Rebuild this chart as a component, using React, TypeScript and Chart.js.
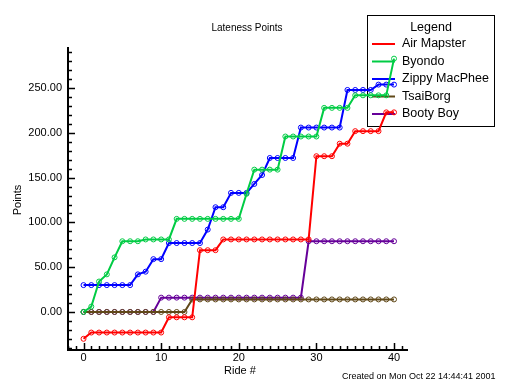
import React, { useEffect, useRef } from 'react';
import { Chart, registerables } from 'chart.js';

Chart.register(...registerables);

const rides = [0, 1, 2, 3, 4, 5, 6, 7, 8, 9, 10, 11, 12, 13, 14, 15, 16, 17, 18, 19, 20, 21, 22, 23, 24, 25, 26, 27, 28, 29, 30, 31, 32, 33, 34, 35, 36, 37, 38, 39, 40];

const airMapster = [-30, -23, -23, -23, -23, -23, -23, -23, -23, -23, -23, -6, -6, -6, -6, 69, 69, 69, 81, 81, 81, 81, 81, 81, 81, 81, 81, 81, 81, 81, 174, 174, 174, 188, 188, 202, 202, 202, 202, 223, 223];
const byondo = [0, 6, 34, 42, 61, 79, 79, 79, 81, 81, 81, 81, 104, 104, 104, 104, 104, 104, 104, 104, 104, 132, 159, 159, 159, 159, 196, 196, 196, 196, 196, 228, 228, 228, 228, 242, 242, 242, 242, 242, 283];
const zippyMacPhee = [30, 30, 30, 30, 30, 30, 30, 42, 45, 59, 59, 77, 77, 77, 77, 77, 92, 117, 117, 133, 133, 133, 143, 153, 172, 172, 172, 172, 206, 206, 206, 206, 206, 206, 248, 248, 248, 248, 254, 254, 254];
const tsaiBorg = [0, 0, 0, 0, 0, 0, 0, 0, 0, 0, 0, 0, 0, 0, 14, 14, 14, 14, 14, 14, 14, 14, 14, 14, 14, 14, 14, 14, 14, 14, 14, 14, 14, 14, 14, 14, 14, 14, 14, 14, 14];
const bootyBoy = [0, 0, 0, 0, 0, 0, 0, 0, 0, 0, 16, 16, 16, 16, 16, 16, 16, 16, 16, 16, 16, 16, 16, 16, 16, 16, 16, 16, 16, 79, 79, 79, 79, 79, 79, 79, 79, 79, 79, 79, 79];

const seriesNames = ['Air Mapster', 'Byondo', 'Zippy MacPhee', 'TsaiBorg', 'Booty Boy'];
const seriesColors = ['#ff0000', '#00cc44', '#0000ff', '#604818', '#660099'];
const seriesValues = [airMapster, byondo, zippyMacPhee, tsaiBorg, bootyBoy];

const yTickValues = [0, 50, 100, 150, 200, 250];
const yTickLabels = ['0.00', '50.00', '100.00', '150.00', '200.00', '250.00'];
const xTickValues = [0, 10, 20, 30, 40];
const xTickLabels = ['0', '10', '20', '30', '40'];

const titleText = 'Lateness Points';
const xTitle = 'Ride #';
const yTitle = 'Points';
const legendTitle = 'Legend';
const footerText = 'Created on Mon Oct 22 14:44:41 2001';

const FONT = "'Liberation Sans', Arial, Helvetica, sans-serif";

const decoPlugin = {
  id: 'deco',
  beforeDatasetsDraw(chart: any) {
    const ctx = chart.ctx as CanvasRenderingContext2D;
    const xs = chart.scales.x;
    const ys = chart.scales.y;
    const left = xs.left;
    const right = xs.right;
    const top = ys.top;
    const bottom = ys.bottom;
    ctx.save();
    ctx.strokeStyle = '#000';
    ctx.fillStyle = '#000';

    // axis lines
    ctx.lineWidth = 2;
    ctx.beginPath();
    ctx.moveTo(left, top);
    ctx.lineTo(left, bottom);
    ctx.lineTo(right, bottom);
    ctx.stroke();

    // y ticks (inward)
    ctx.lineWidth = 1.5;
    const yMinT = Math.ceil(ys.min / 10) * 10;
    for (let v = yMinT; v <= ys.max; v += 10) {
      const py = Math.round(ys.getPixelForValue(v)) + 0.5;
      const major = v % 50 === 0;
      ctx.beginPath();
      ctx.moveTo(left, py);
      ctx.lineTo(left + (major ? 7 : 4), py);
      ctx.stroke();
    }
    // x ticks (inward)
    const xMinT = Math.ceil(xs.min);
    for (let v = xMinT; v <= xs.max; v += 1) {
      const px = Math.round(xs.getPixelForValue(v)) + 0.5;
      const major = v % 10 === 0;
      ctx.beginPath();
      ctx.moveTo(px, bottom);
      ctx.lineTo(px, bottom - (major ? 7 : 4));
      ctx.stroke();
    }

    // tick labels
    ctx.font = `11px ${FONT}`;
    ctx.textAlign = 'right';
    ctx.textBaseline = 'middle';
    yTickValues.forEach((v, i) => {
      ctx.fillText(yTickLabels[i], left - 6, ys.getPixelForValue(v));
    });
    ctx.textAlign = 'center';
    xTickValues.forEach((v, i) => {
      ctx.fillText(xTickLabels[i], xs.getPixelForValue(v), bottom + 8);
    });

    // axis titles
    ctx.fillText(xTitle, 240, 371);
    ctx.save();
    ctx.translate(18, 200);
    ctx.rotate(-Math.PI / 2);
    ctx.fillText(yTitle, 0, 0);
    ctx.restore();

    // chart title
    ctx.font = `10px ${FONT}`;
    ctx.fillText(titleText, 247, 28);

    // footer
    ctx.font = `9px ${FONT}`;
    ctx.textAlign = 'left';
    ctx.fillText(footerText, 342, 377);

    // legend
    ctx.lineWidth = 1;
    ctx.strokeRect(367.5, 15.5, 127, 111);
    ctx.font = `12.5px ${FONT}`;
    ctx.textAlign = 'center';
    ctx.fillText(legendTitle, 431, 28);
    ctx.textAlign = 'left';
    seriesNames.forEach((name, i) => {
      const ly = 44 + 17.5 * i;
      ctx.strokeStyle = seriesColors[i];
      ctx.lineWidth = 2;
      ctx.beginPath();
      ctx.moveTo(372, ly);
      ctx.lineTo(395, ly);
      ctx.stroke();
      ctx.fillStyle = '#000';
      ctx.fillText(name, 402, ly);
    });
    ctx.restore();
  },
};

export default function App() {
  const ref = useRef<HTMLCanvasElement>(null);
  useEffect(() => {
    if (!ref.current) return;
    const datasets = seriesNames.map((name, i) => ({
      label: name,
      data: rides.map((r, j) => ({ x: r, y: seriesValues[i][j] })),
      borderColor: seriesColors[i],
      backgroundColor: seriesColors[i],
      borderWidth: 2,
      tension: 0,
      pointRadius: 2.5,
      pointBorderWidth: 1,
      pointBorderColor: seriesColors[i],
      pointBackgroundColor: 'rgba(255,255,255,0)',
      fill: false,
    }));
    const chart = new Chart(ref.current, {
      type: 'line',
      data: { datasets },
      options: {
        responsive: false,
        maintainAspectRatio: false,
        animation: false,
        layout: { padding: { left: 68, right: 104, top: 47, bottom: 34 } },
        plugins: {
          legend: { display: false },
          title: { display: false },
          tooltip: { enabled: false },
        },
        scales: {
          x: { type: 'linear', min: -2, max: 41.8, display: false },
          y: { type: 'linear', min: -42.5, max: 296, display: false },
        },
      },
      plugins: [decoPlugin],
    });
    return () => chart.destroy();
  }, []);
  return (
    <div style={{ position: 'absolute', left: 0, top: 0, width: 512, height: 384, background: '#fff' }}>
      <canvas ref={ref} width={512} height={384} style={{ width: 512, height: 384, display: 'block' }} />
    </div>
  );
}
